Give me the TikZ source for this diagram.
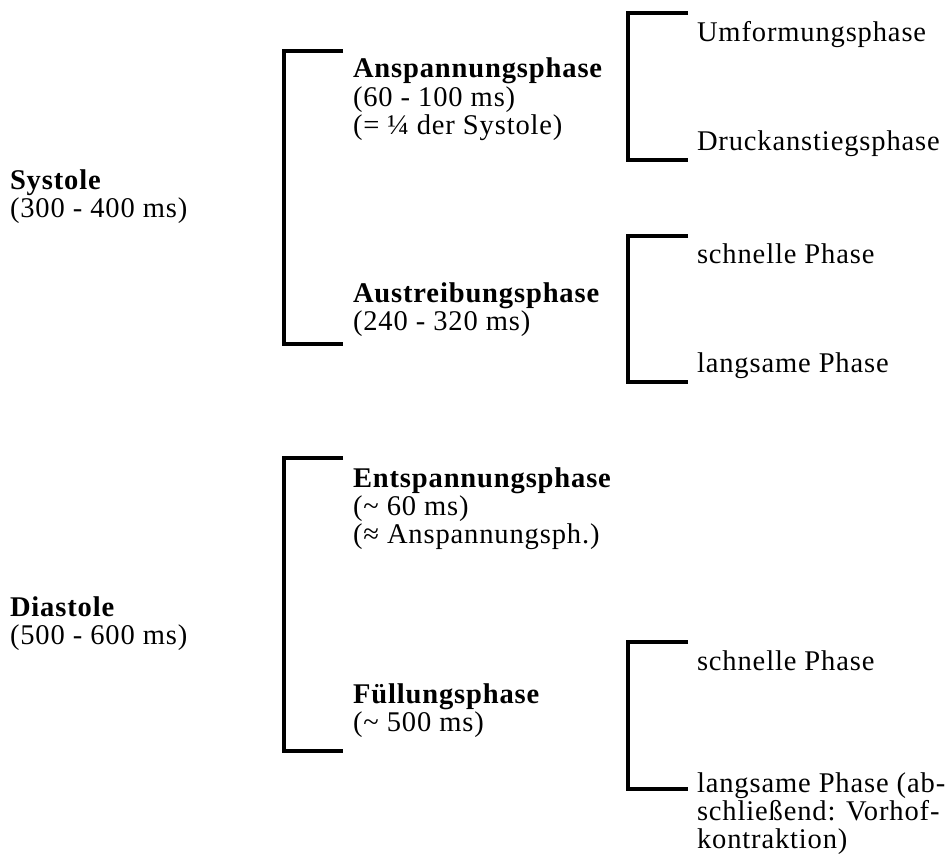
\documentclass[tikz,border=0pt]{standalone}
\usepackage{fontspec}
\setmainfont{Liberation Serif}[LetterSpace=3]
\begin{document}
\begin{tikzpicture}[x=0.75pt,y=-0.75pt,
  txt/.style={anchor=base west,inner sep=0pt,outer sep=0pt,font=\fontsize{21.4}{23}\selectfont},
  hd/.style={txt,font=\fontsize{21.4}{23}\selectfont\bfseries},
  brk/.style={line width=3.4pt,line cap=butt,line join=miter}]
\useasboundingbox[fill=white] (0,0) rectangle (952,856);
% left column
\node[hd]  (sys)  at (10,189) {Systole};
\node[txt] (sys2) at (10,217) {(300 - 400 ms)};
\node[hd]  (dia)  at (10,616) {Diastole};
\node[txt] (dia2) at (10,644) {(500 - 600 ms)};
% middle column
\node[hd]  (ansp)  at (353,78)  {Anspannungsphase};
\node[txt] (ansp2) at (353,106) {(60 - 100 ms)};
\node[txt] (ansp3) at (353,134) {(= ¼ der Systole)};
\node[hd]  (aus)   at (353,302) {Austreibungsphase};
\node[txt] (aus2)  at (353,330) {(240 - 320 ms)};
\node[hd]  (ent)   at (353,487) {Entspannungsphase};
\node[txt] (ent2)  at (353,515) {(\textasciitilde\ 60 ms)};
\node[txt] (ent3)  at (353,543) {(≈ Anspannungsph.)};
\node[hd]  (fue)   at (353,703) {Füllungsphase};
\node[txt] (fue2)  at (353,731) {(\textasciitilde\ 500 ms)};
% right column
\node[txt] (umf)  at (697,42)  {Umformungsphase};
\node[txt] (dru)  at (697,150) {Druckanstiegsphase};
\node[txt] (sch1) at (697,263) {schnelle Phase};
\node[txt] (lan1) at (697,372) {langsame Phase};
\node[txt] (sch2) at (697,670) {schnelle Phase};
\node[txt] (lan2) at (697,792) {langsame Phase (ab-};
\node[txt] (lan2b) at (697,820) {schließend: Vorhof-};
\node[txt] (lan2c) at (697,848) {kontraktion)};
% brackets
\coordinate (b1t) at (343,51);  \coordinate (b1b) at (343,344);
\coordinate (b2t) at (688,13);  \coordinate (b2b) at (688,160);
\coordinate (b3t) at (688,236); \coordinate (b3b) at (688,382);
\coordinate (b4t) at (343,458); \coordinate (b4b) at (343,751);
\coordinate (b5t) at (688,642); \coordinate (b5b) at (688,789);
\draw[brk] (b1t) -- (284,51) -- (284,344) -- (b1b);
\draw[brk] (b2t) -- (628,13) -- (628,160) -- (b2b);
\draw[brk] (b3t) -- (628,236) -- (628,382) -- (b3b);
\draw[brk] (b4t) -- (284,458) -- (284,751) -- (b4b);
\draw[brk] (b5t) -- (628,642) -- (628,789) -- (b5b);
\end{tikzpicture}
\end{document}
